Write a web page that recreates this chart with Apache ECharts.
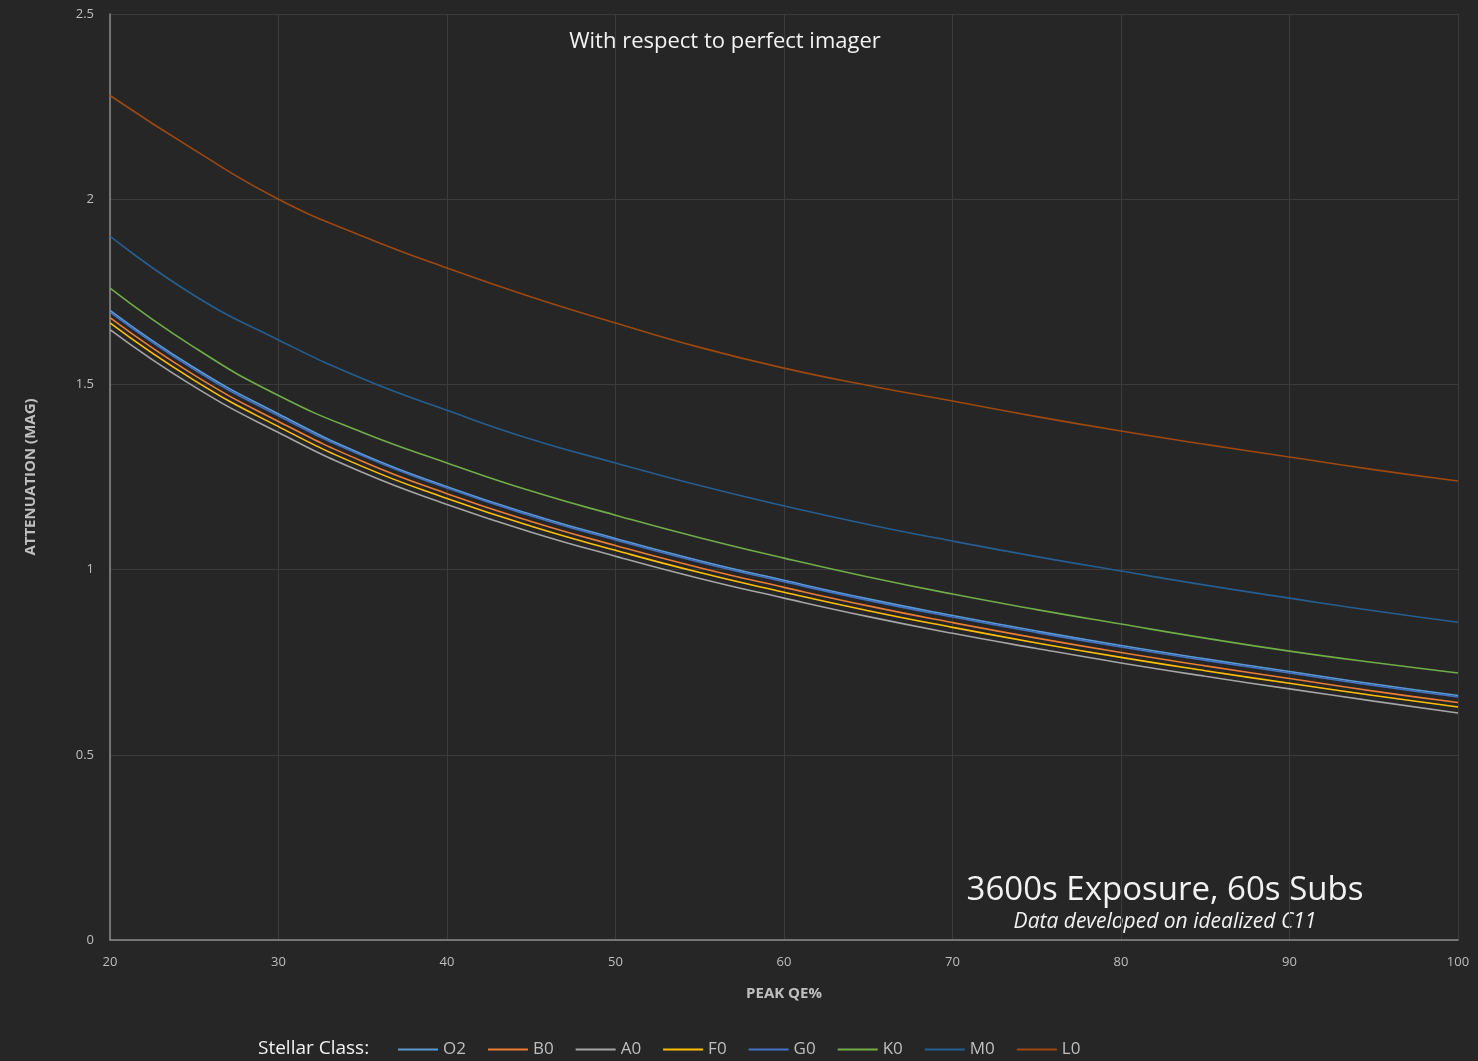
<!DOCTYPE html>
<html>
<head>
<meta charset="utf-8">
<script src="https://cdn.jsdelivr.net/npm/echarts@6/dist/echarts.min.js"></script>
<style>
  html, body { margin: 0; padding: 0; background: #262626; }
  #chart { width: 1478px; height: 1061px; }
</style>
</head>
<body>
<div id="chart"></div>
<script>
// peak QE% sample points
const qe = [20, 25, 30, 35, 40, 45, 50, 55, 60, 65, 70, 75, 80, 85, 90, 95, 100];

const classNames = ["O2", "B0", "A0", "F0", "G0", "K0", "M0", "L0"];
const classColors = ["#5b9bd5", "#ed7d31", "#a5a5a5", "#ffc000", "#4472c4", "#70ad47", "#255e91", "#9e480e"];

// attenuation (mag)
const o2 = [1.700, 1.545, 1.420, 1.311, 1.224, 1.149, 1.084, 1.024, 0.971, 0.921, 0.876, 0.834, 0.795, 0.759, 0.725, 0.691, 0.660];
const b0 = [1.680, 1.525, 1.400, 1.292, 1.205, 1.130, 1.065, 1.005, 0.952, 0.902, 0.857, 0.815, 0.776, 0.740, 0.706, 0.672, 0.641];
const a0 = [1.648, 1.494, 1.370, 1.262, 1.176, 1.101, 1.036, 0.976, 0.923, 0.873, 0.828, 0.787, 0.748, 0.712, 0.678, 0.645, 0.613];
const f0 = [1.666, 1.511, 1.386, 1.278, 1.192, 1.117, 1.052, 0.992, 0.939, 0.889, 0.844, 0.802, 0.763, 0.727, 0.693, 0.660, 0.629];
const g0 = [1.695, 1.540, 1.415, 1.307, 1.220, 1.145, 1.080, 1.020, 0.967, 0.917, 0.872, 0.830, 0.791, 0.755, 0.721, 0.687, 0.656];
const k0 = [1.760, 1.600, 1.470, 1.370, 1.288, 1.212, 1.147, 1.086, 1.031, 0.980, 0.934, 0.892, 0.853, 0.815, 0.780, 0.749, 0.721];
const m0 = [1.900, 1.740, 1.620, 1.515, 1.430, 1.352, 1.288, 1.227, 1.172, 1.122, 1.077, 1.035, 0.996, 0.958, 0.923, 0.889, 0.858];
const l0 = [2.280, 2.133, 2.000, 1.900, 1.814, 1.736, 1.666, 1.600, 1.544, 1.497, 1.455, 1.413, 1.374, 1.338, 1.304, 1.270, 1.239];

const seriesData = [o2, b0, a0, f0, g0, k0, m0, l0];

const chart = echarts.init(document.getElementById("chart"));

const series = classNames.map((name, i) => ({
  name: name,
  type: "line",
  smooth: true,
  symbol: "none",
  lineStyle: { width: 1.6, color: classColors[i] },
  itemStyle: { color: classColors[i] },
  data: qe.map((x, j) => [x, seriesData[i][j]])
}));

chart.setOption({
  backgroundColor: "#262626",
  animation: false,
  textStyle: { fontFamily: "Open Sans" },
  grid: { left: 110, right: 20, top: 14, bottom: 121 },
  xAxis: {
    type: "value",
    min: 20,
    max: 100,
    interval: 10,
    name: "PEAK QE%",
    nameLocation: "middle",
    nameGap: 46,
    nameTextStyle: { color: "#bfbfbf", fontSize: 15, fontWeight: "bold" },
    axisLine: { lineStyle: { color: "#8c8c8c", width: 1.5 } },
    axisTick: { show: false },
    axisLabel: { color: "#bfbfbf", fontSize: 13, margin: 16 },
    splitLine: { lineStyle: { color: "#3b3b3b" } }
  },
  yAxis: {
    type: "value",
    min: 0,
    max: 2.5,
    interval: 0.5,
    name: "ATTENUATION (MAG)",
    nameLocation: "middle",
    nameGap: 72,
    nameTextStyle: { color: "#bfbfbf", fontSize: 15, fontWeight: "bold" },
    axisLine: { show: true, lineStyle: { color: "#8c8c8c", width: 1.5 } },
    axisTick: { show: false },
    axisLabel: { color: "#bfbfbf", fontSize: 13, margin: 16 },
    splitLine: { lineStyle: { color: "#3b3b3b" } }
  },
  legend: {
    left: 393,
    bottom: -2,
    icon: "rect",
    itemWidth: 40,
    itemHeight: 2,
    itemGap: 22,
    textStyle: { color: "#bfbfbf", fontSize: 17 },
    data: classNames
  },
  graphic: [
    {
      type: "text",
      x: 258,
      y: 1049,
      style: { text: "Stellar Class:", fill: "#f2f2f2", fontSize: 19, fontFamily: "Open Sans", verticalAlign: "middle" }
    },
    {
      type: "text",
      x: 725,
      y: 42,
      style: { text: "With respect to perfect imager", fill: "#f2f2f2", fontSize: 22, fontFamily: "Open Sans", align: "center", verticalAlign: "middle" }
    },
    {
      type: "text",
      x: 1165,
      y: 891,
      style: { text: "3600s Exposure, 60s Subs", fill: "#f2f2f2", fontSize: 33, fontFamily: "Open Sans", align: "center", verticalAlign: "middle" }
    },
    {
      type: "text",
      x: 1165,
      y: 922,
      style: { text: "Data developed on idealized C11", fill: "#f2f2f2", fontSize: 21, fontStyle: "italic", fontFamily: "Open Sans", align: "center", verticalAlign: "middle" }
    }
  ],
  series: series
});
</script>
</body>
</html>
